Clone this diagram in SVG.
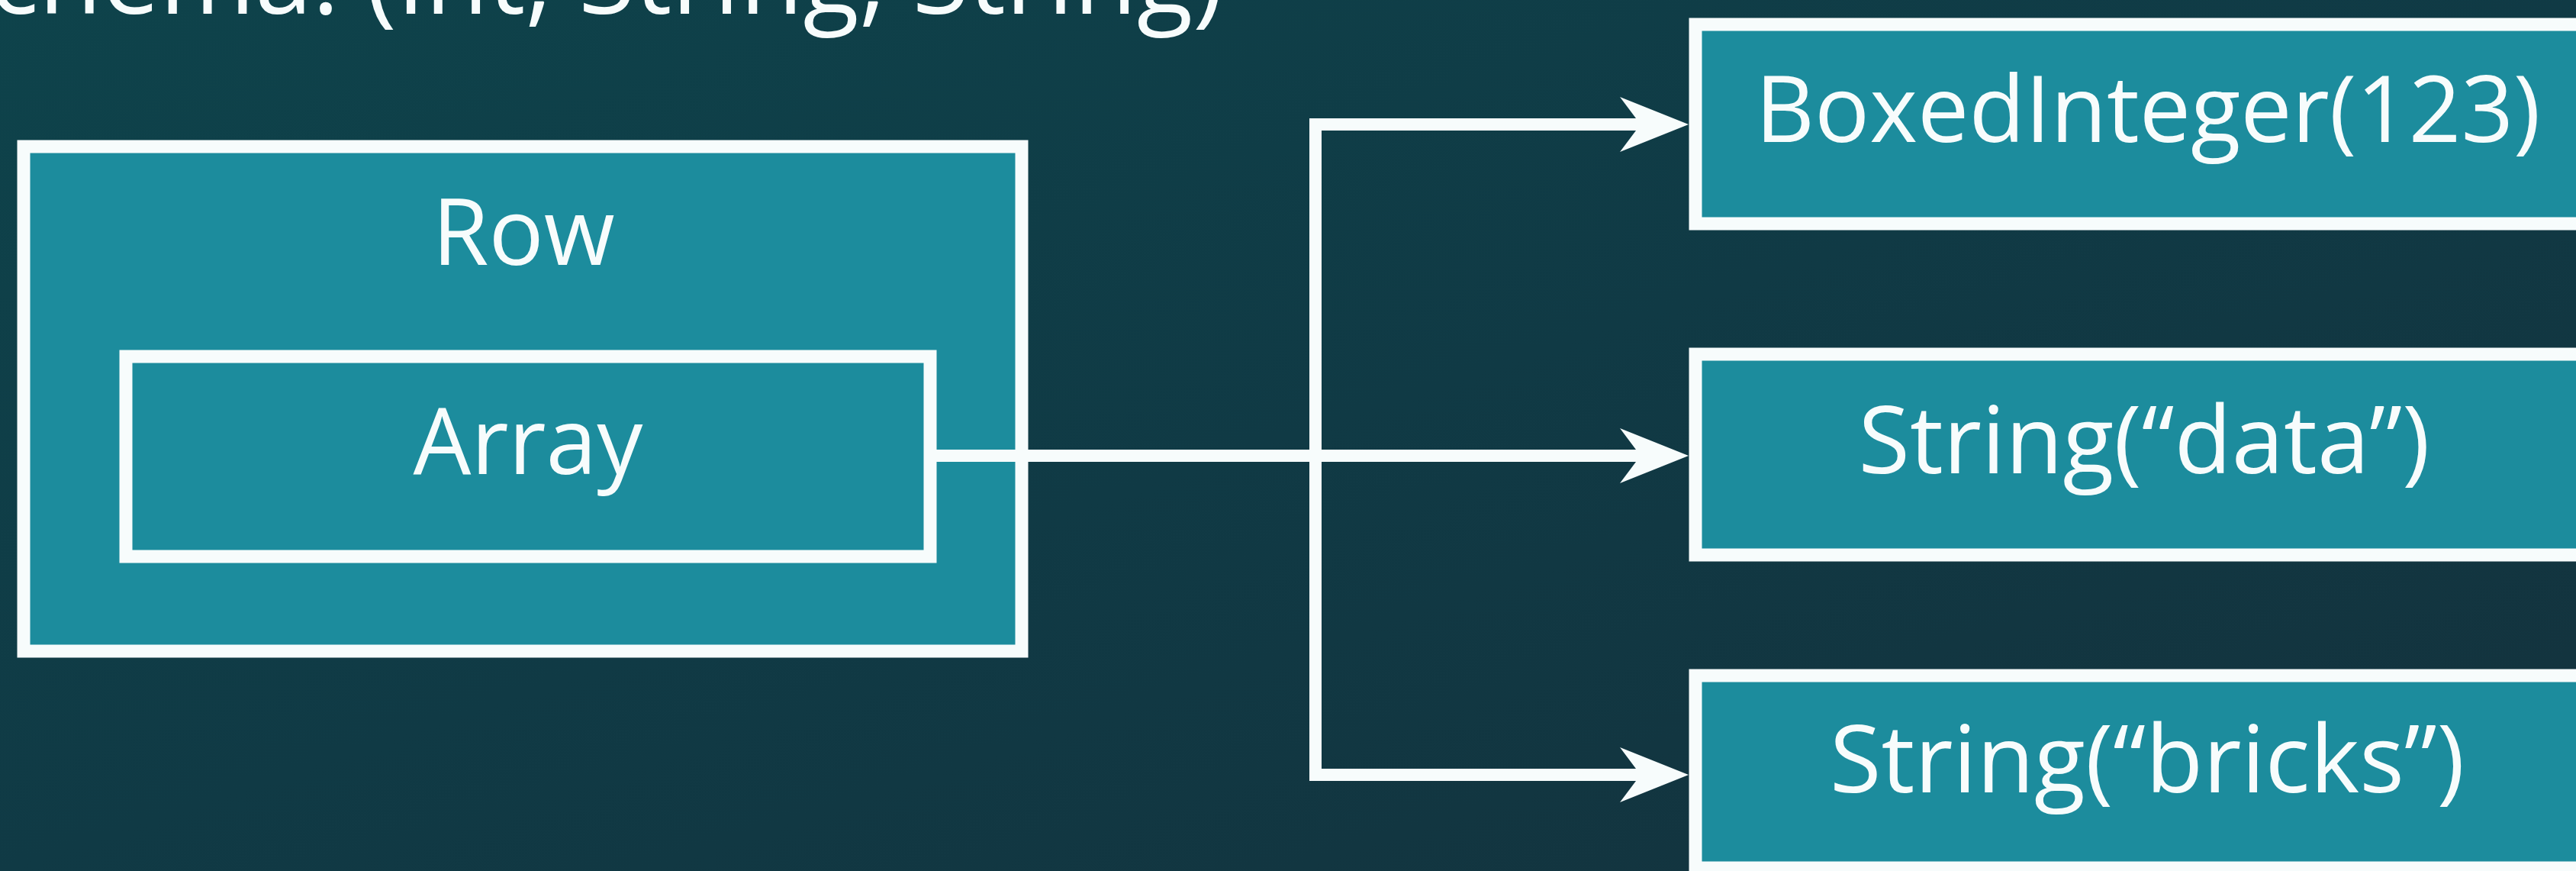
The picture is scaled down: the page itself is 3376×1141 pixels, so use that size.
<svg xmlns="http://www.w3.org/2000/svg" width="3376" height="1141" viewBox="0 0 3376 1141">
  <defs>
    <linearGradient id="bg" x1="0" y1="0" x2="1" y2="1">
      <stop offset="0" stop-color="#0e434b"/>
      <stop offset="0.5" stop-color="#103a45"/>
      <stop offset="1" stop-color="#14323d"/>
    </linearGradient>
    <marker id="arrow" viewBox="0 0 90 72" refX="52" refY="36" markerWidth="90" markerHeight="72" markerUnits="userSpaceOnUse" orient="auto">
      <path d="M0,0 L90,36 L0,72 L27,36 Z" fill="#f7fcfc"/>
    </marker>
    <style>
      .box { fill: #1c8c9d; stroke: #f7fcfc; stroke-width: 17; }
      .lbl { font-family: "Open Sans", "Noto Sans", sans-serif; font-size: 120px; fill: #f7fcfc; text-anchor: middle; }
      .str { font-size: 123px; }
      .title { font-family: "Open Sans", "Noto Sans", sans-serif; font-size: 135px; fill: #f7fcfc; }
      .conn { fill: none; stroke: #f7fcfc; stroke-width: 16; stroke-linejoin: miter; }
    </style>
  </defs>
  <rect x="0" y="0" width="3376" height="1141" fill="url(#bg)"/>
  <text class="title" x="-88" y="18">Schema: (Int, String, String)</text>

  <g id="row">
    <rect class="box" x="31" y="192" width="1308" height="661"/>
    <text class="lbl" x="686" y="347">Row</text>
  </g>
  <g id="array">
    <rect class="box" x="165" y="467" width="1054" height="262"/>
    <text class="lbl" x="692" y="621">Array</text>
  </g>
  <g id="boxedinteger">
    <rect class="box" x="2222" y="32" width="1200" height="261"/>
    <text class="lbl" x="2815" y="186">BoxedInteger(123)</text>
  </g>
  <g id="string-data">
    <rect class="box" x="2222" y="464" width="1200" height="263"/>
    <text class="lbl str" x="2810" y="620">String(“data”)</text>
  </g>
  <g id="string-bricks">
    <rect class="box" x="2222" y="885" width="1200" height="252"/>
    <text class="lbl str" x="2814" y="1038">String(“bricks”)</text>
  </g>

  <g id="connectors">
    <path class="conn" d="M1227,597 H2175" marker-end="url(#arrow)"/>
    <path class="conn" d="M1724,597 V163 H2175" marker-end="url(#arrow)"/>
    <path class="conn" d="M1724,597 V1015 H2175" marker-end="url(#arrow)"/>
  </g>
</svg>
